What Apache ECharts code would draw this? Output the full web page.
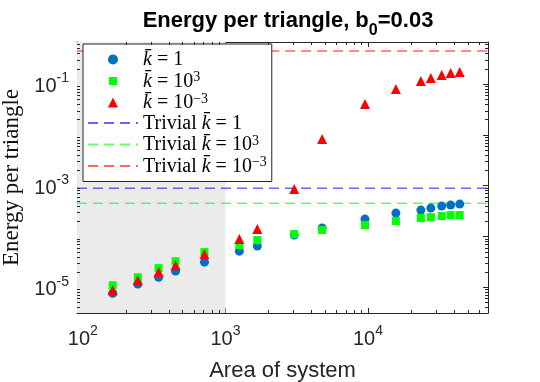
<!DOCTYPE html>
<html>
<head>
<meta charset="utf-8">
<script src="https://cdn.jsdelivr.net/npm/echarts@6/dist/echarts.min.js"></script>
<style>
  html, body { margin: 0; padding: 0; background: #fff; }
  #chart { width: 540px; height: 382px; }
</style>
</head>
<body>
<div id="chart"></div>
<script>
// data
const area = [162, 243, 340, 447, 713, 1253, 1675, 3040, 4770, 9530, 15700, 23500, 27600, 32900, 38000, 44000];
const kOne = [7.6e-6, 1.15e-5, 1.57e-5, 2.07e-5, 3.11e-5, 5.12e-5, 6.43e-5, 1.06e-4, 1.46e-4, 2.19e-4, 2.87e-4, 3.29e-4, 3.60e-4, 3.94e-4, 4.13e-4, 4.32e-4];
const kThousand = [1.09e-5, 1.57e-5, 2.37e-5, 3.25e-5, 4.89e-5, 6.73e-5, 8.44e-5, 1.11e-4, 1.33e-4, 1.67e-4, 2.00e-4, 2.29e-4, 2.39e-4, 2.51e-4, 2.62e-4, 2.62e-4];
const kMilli = [8.7e-6, 1.37e-5, 1.98e-5, 2.71e-5, 4.46e-5, 8.83e-5, 1.39e-4, 8.53e-4, 8.24e-3, 0.0404, 0.0796, 0.115, 0.131, 0.150, 0.165, 0.172];
const trivial = [8.9e-4, 4.5e-4, 0.447]; // k=1, k=10^3, k=10^-3
const shadedUpTo = 1000;

// axis limits
const xMin = 91, xMax = 69500;
const yMin = 3.1e-6, yMax = 0.67;

const axisColor = '#262626';
const sans = 'Liberation Sans';
const serif = 'Liberation Serif';

// minor ticks 2..9 x 10^k inside the limits
function minorTicks(lo, hi) {
    let out = [];
    for (let e = Math.floor(Math.log10(lo)); e <= Math.ceil(Math.log10(hi)); e++) {
        for (let m = 2; m <= 9; m++) {
            let v = m * Math.pow(10, e);
            if (v > lo && v < hi) out.push(v);
        }
    }
    return out;
}
const xMinor = minorTicks(xMin, xMax);
const yMinor = minorTicks(yMin, yMax);

function pairs(xs, ys) {
    return xs.map((x, i) => [x, ys[i]]);
}

function powLabel(odd) {
    return function (v) {
        let e = Math.log10(v);
        let r = Math.round(e);
        if (Math.abs(e - r) > 1e-6) return '';
        if (odd && Math.abs(r) % 2 !== 1) return '';
        return '{b|10}{s|' + r + '}';
    };
}

const powRich = {
    b: { fontFamily: sans, fontSize: 20, lineHeight: 20, color: axisColor, verticalAlign: 'bottom' },
    s: { fontFamily: sans, fontSize: 14, lineHeight: 25, color: axisColor, verticalAlign: 'top' }
};

const minorLen = 3;

function xMinorItem(params, api) {
    const cs = params.coordSys;
    const px = Math.round(api.coord([api.value(0), yMin])[0]) + 0.5;
    const st = { stroke: axisColor, lineWidth: 1 };
    return {
        type: 'group',
        children: [
            { type: 'line', shape: { x1: px, y1: cs.y + cs.height, x2: px, y2: cs.y + cs.height - minorLen }, style: st },
            { type: 'line', shape: { x1: px, y1: cs.y, x2: px, y2: cs.y + minorLen }, style: st }
        ]
    };
}

function yMinorItem(params, api) {
    const cs = params.coordSys;
    const py = Math.round(api.coord([xMin, api.value(1)])[1]) + 0.5;
    const st = { stroke: axisColor, lineWidth: 1 };
    return {
        type: 'group',
        children: [
            { type: 'line', shape: { x1: cs.x, y1: py, x2: cs.x + minorLen, y2: py }, style: st },
            { type: 'line', shape: { x1: cs.x + cs.width, y1: py, x2: cs.x + cs.width - minorLen, y2: py }, style: st }
        ]
    };
}

const legendText = {
    kOne: '{i|k\u0304}{n| = 1}',
    kThousand: '{i|k\u0304}{n| = 10}{s|3}',
    kMilli: '{i|k\u0304}{n| = 10}{s|\u22123}',
    tOne: '{n|Trivial }{i|k\u0304}{n| = 1}',
    tThousand: '{n|Trivial }{i|k\u0304}{n| = 10}{s|3}',
    tMilli: '{n|Trivial }{i|k\u0304}{n| = 10}{s|\u22123}'
};

function baseAxis(type, pos, labels) {
    return {
        type: 'log',
        logBase: 10,
        position: pos,
        min: type === 'x' ? xMin : yMin,
        max: type === 'x' ? xMax : yMax,
        splitNumber: 5,
        axisLine: { show: true, lineStyle: { color: axisColor, width: 1 } },
        axisTick: { show: true, inside: true, length: 5, lineStyle: { color: axisColor } },
        splitLine: { show: false },
        axisLabel: labels ? {
            show: true,
            formatter: powLabel(type === 'y'),
            rich: powRich,
            margin: type === 'x' ? 11 : 8
        } : { show: false }
    };
}

const chart = echarts.init(document.getElementById('chart'), null, { renderer: 'canvas' });

const xBottom = baseAxis('x', 'bottom', true);
xBottom.name = 'Area of system';
xBottom.nameLocation = 'middle';
xBottom.nameGap = 47;
xBottom.nameTextStyle = { fontFamily: sans, fontSize: 22, color: axisColor };

const yLeft = baseAxis('y', 'left', true);
yLeft.name = 'Energy per triangle';
yLeft.nameLocation = 'middle';
yLeft.nameGap = 50;
yLeft.nameTextStyle = { fontFamily: serif, fontSize: 23, color: '#111' };

// legend icons (padded square so it draws a little smaller than the circle)
const squareIcon = 'path://M0,0M10,10M1,1L9,1L9,9L1,9Z';
const triangleIcon = 'path://M5,0L10,10L0,10Z';
const lineLegendItem = (name) => ({ name: name, itemStyle: { opacity: 0 } });

const option = {
    animation: false,
    backgroundColor: '#fff',
    title: {
        text: '{t|Energy per triangle, b}{sub|0}{t|=0.03}',
        left: 283,
        top: 5,
        textAlign: 'center',
        textStyle: {
            rich: {
                t: { fontFamily: sans, fontWeight: 'bold', fontSize: 22, lineHeight: 22, color: '#000', verticalAlign: 'top' },
                sub: { fontFamily: sans, fontWeight: 'bold', fontSize: 16, lineHeight: 29, color: '#000', verticalAlign: 'bottom' }
            }
        }
    },
    grid: { left: 77, right: 52, top: 42, bottom: 69, outerBoundsMode: 'none' },
    legend: {
        orient: 'vertical',
        left: 83,
        top: 44,
        padding: [6, 5, 5, 4],
        itemWidth: 50,
        itemHeight: 10,
        itemGap: 0.5,
        symbolKeepAspect: true,
        backgroundColor: '#fff',
        borderColor: axisColor,
        borderWidth: 1,
        borderRadius: 0,
        data: [
            { name: 'kOne', icon: 'circle' },
            { name: 'kThousand', icon: squareIcon },
            { name: 'kMilli', icon: triangleIcon },
            lineLegendItem('tOne'), lineLegendItem('tThousand'), lineLegendItem('tMilli')
        ],
        formatter: name => legendText[name],
        textStyle: {
            rich: {
                n: { fontFamily: serif, fontSize: 20, lineHeight: 21, color: '#000', verticalAlign: 'bottom' },
                i: { fontFamily: serif, fontStyle: 'italic', fontSize: 20, lineHeight: 21, color: '#000', verticalAlign: 'bottom' },
                s: { fontFamily: serif, fontSize: 14, lineHeight: 21, color: '#000', verticalAlign: 'top' }
            }
        }
    },
    xAxis: [xBottom, baseAxis('x', 'top', false)],
    yAxis: [yLeft, baseAxis('y', 'right', false)],
    series: [
        {
            // shaded region of small systems
            type: 'scatter',
            data: [],
            z: 1,
            silent: true,
            markArea: {
                silent: true,
                itemStyle: { color: '#ebebeb' },
                data: [[{ coord: [xMin, yMin] }, { coord: [shadedUpTo, yMax] }]]
            }
        },
        {
            type: 'custom',
            renderItem: xMinorItem,
            data: xMinor.map(v => [v, yMin]),
            z: 6,
            silent: true,
            clip: false
        },
        {
            type: 'custom',
            renderItem: yMinorItem,
            data: yMinor.map(v => [xMin, v]),
            z: 6,
            silent: true,
            clip: false
        },
        {
            name: 'kOne',
            type: 'scatter',
            symbol: 'circle',
            symbolSize: 9,
            z: 3,
            itemStyle: { color: '#0072BD', opacity: 1 },
            data: pairs(area, kOne)
        },
        {
            name: 'kThousand',
            type: 'scatter',
            symbol: 'rect',
            symbolSize: 8,
            z: 3,
            itemStyle: { color: '#00FF00', opacity: 1 },
            data: pairs(area, kThousand)
        },
        {
            name: 'kMilli',
            type: 'scatter',
            symbol: 'triangle',
            symbolSize: 10,
            z: 3,
            itemStyle: { color: '#FF0000', opacity: 1 },
            data: pairs(area, kMilli)
        },
        {
            name: 'tOne',
            type: 'line',
            symbol: 'none',
            z: 2,
            lineStyle: { color: 'rgba(0,0,255,0.6)', width: 1.5, type: [10, 6] },
            itemStyle: { color: 'rgba(0,0,255,0.6)' },
            data: [[xMin, trivial[0]], [xMax, trivial[0]]]
        },
        {
            name: 'tThousand',
            type: 'line',
            symbol: 'none',
            z: 2,
            lineStyle: { color: 'rgba(0,255,0,0.6)', width: 1.5, type: [10, 6] },
            itemStyle: { color: 'rgba(0,255,0,0.6)' },
            data: [[xMin, trivial[1]], [xMax, trivial[1]]]
        },
        {
            name: 'tMilli',
            type: 'line',
            symbol: 'none',
            z: 2,
            lineStyle: { color: 'rgba(255,0,0,0.6)', width: 1.5, type: [10, 6] },
            itemStyle: { color: 'rgba(255,0,0,0.6)' },
            data: [[xMin, trivial[2]], [xMax, trivial[2]]]
        }
    ]
};

chart.setOption(option);
</script>
</body>
</html>
